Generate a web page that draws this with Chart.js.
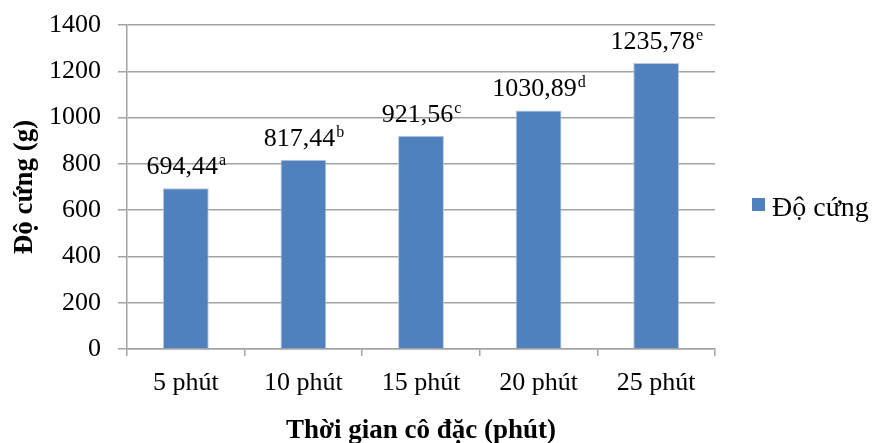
<!DOCTYPE html>
<html>
<head>
<meta charset="utf-8">
<script src="https://cdn.jsdelivr.net/npm/chart.js@4"></script>
<style>
  html, body { margin: 0; padding: 0; background: #fff; }
  #wrap { width: 875px; height: 443px; }
</style>
</head>
<body>
<div id="wrap"><canvas id="myChart" width="875" height="443"></canvas></div>
<script>
const labels = ["5 phút", "10 phút", "15 phút", "20 phút", "25 phút"];
const hardness = [694.44, 817.44, 921.56, 1030.89, 1235.78];
const valueText = ["694,44", "817,44", "921,56", "1030,89", "1235,78"];
const letters = ["a", "b", "c", "d", "e"];
const yTicks = [0, 200, 400, 600, 800, 1000, 1200, 1400];

const serif = "'Liberation Serif', 'Times New Roman', serif";
const barColor = '#4F81BD';
const gridColor = '#a3a3a3';

// value labels with superscript letters + hand drawn legend
const extras = {
  id: 'extras',
  afterDatasetsDraw(chart) {
    const ctx = chart.ctx;
    const meta = chart.getDatasetMeta(0);
    ctx.save();
    ctx.fillStyle = '#000';
    ctx.textBaseline = 'alphabetic';
    meta.data.forEach((bar, i) => {
      ctx.font = '26px ' + serif;
      const w1 = ctx.measureText(valueText[i]).width;
      ctx.font = '16px ' + serif;
      const w2 = ctx.measureText(letters[i]).width;
      const x0 = bar.x - (w1 + w2) / 2;
      const y0 = bar.y - 14;
      ctx.font = '26px ' + serif;
      ctx.textAlign = 'left';
      ctx.fillText(valueText[i], x0, y0);
      ctx.font = '16px ' + serif;
      ctx.fillText(letters[i], x0 + w1 + 1, y0 - 9);
    });

    // legend
    ctx.fillStyle = barColor;
    ctx.fillRect(752, 198, 13, 13);
    ctx.fillStyle = '#000';
    ctx.font = '28px ' + serif;
    ctx.fillText('Độ cứng', 772, 216);
    ctx.restore();
  }
};

const data = {
  labels: labels,
  datasets: [{
    label: 'Độ cứng',
    data: hardness,
    backgroundColor: barColor,
    borderColor: '#b9c9e0',
    borderWidth: 1,
    barPercentage: 0.39,
    categoryPercentage: 1
  }]
};

const config = {
  type: 'bar',
  data: data,
  options: {
    responsive: false,
    animation: false,
    layout: { padding: { left: 0, right: 160, top: 25, bottom: 0 } },
    plugins: {
      legend: { display: false },
      tooltip: { enabled: false }
    },
    scales: {
      x: {
        afterFit: (s) => { s.height = 94; },
        grid: {
          offset: true,
          drawOnChartArea: false,
          drawTicks: true,
          tickLength: 7,
          color: gridColor,
          lineWidth: 1.5
        },
        border: { color: gridColor, width: 1.5 },
        ticks: {
          color: '#000',
          padding: 12,
          font: { family: serif, size: 26 }
        },
        title: {
          display: true,
          text: 'Thời gian cô đặc (phút)',
          color: '#000',
          font: { family: serif, size: 27, weight: 'bold' },
          padding: { top: 0, bottom: -4 }
        }
      },
      y: {
        min: 0,
        max: 1400,
        afterFit: (s) => { s.width = 127; s.paddingTop = 0; },
        afterBuildTicks: (s) => { s.ticks = yTicks.map(v => ({ value: v })); },
        grid: {
          color: gridColor,
          lineWidth: 1.5,
          tickLength: 9
        },
        border: { color: gridColor, width: 1.5 },
        ticks: {
          color: '#000',
          padding: 17,
          font: { family: serif, size: 26 },
          callback: (v) => String(v)
        },
        title: {
          display: true,
          text: 'Độ cứng (g)',
          color: '#000',
          font: { family: serif, size: 27, weight: 'bold' },
          padding: { top: 9, bottom: 0 }
        }
      }
    }
  },
  plugins: [extras]
};

const myChart = new Chart(
  document.getElementById('myChart'),
  config
);
</script>
</body>
</html>
